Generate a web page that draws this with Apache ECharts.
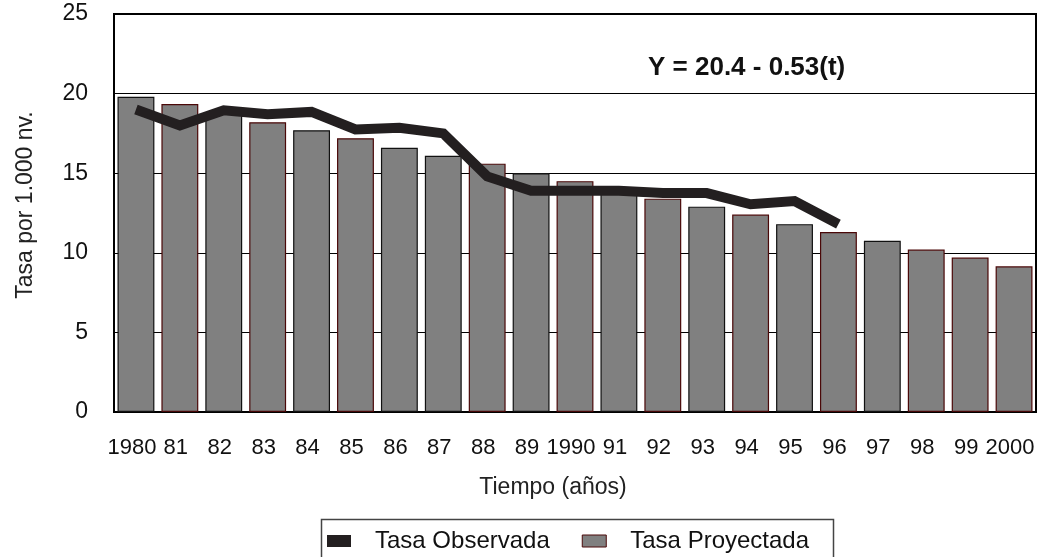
<!DOCTYPE html>
<html>
<head>
<meta charset="utf-8">
<script src="https://cdn.jsdelivr.net/npm/echarts@6/dist/echarts.min.js"></script>
<style>
html,body{margin:0;padding:0;background:#fff;}
#c{width:1041px;height:557px;}
</style>
</head>
<body>
<div id="c"></div>
<script>
const categories = ['1980','81','82','83','84','85','86','87','88','89','1990','91','92','93','94','95','96','97','98','99','2000'];
const projected = [19.8, 19.35, 18.8, 18.2, 17.7, 17.2, 16.6, 16.1, 15.6, 15.0, 14.5, 13.95, 13.4, 12.9, 12.4, 11.8, 11.3, 10.75, 10.2, 9.7, 9.15];
const observed = [19.0, 18.0, 18.95, 18.7, 18.85, 17.75, 17.85, 17.5, 14.8, 13.9, 13.9, 13.9, 13.75, 13.75, 13.05, 13.25, 11.8, null, null, null, null];
const yTicks = [0, 5, 10, 15, 20, 25];
const redEdged = [1, 3, 5, 8, 10, 12, 14, 16, 18, 19, 20];

const FONT = "'Liberation Sans', Arial, sans-serif";
const chart = echarts.init(document.getElementById('c'), null, {renderer: 'canvas'});

const barData = projected.map((v, i) => ({
  value: v,
  itemStyle: {borderColor: redEdged.includes(i) ? '#4a0808' : '#111'}
}));

chart.setOption({
  animation: false,
  backgroundColor: '#fff',
  grid: {left: 114, right: 5, top: 14, bottom: 145, show: true, borderColor: '#000', borderWidth: 2, backgroundColor: 'transparent'},
  xAxis: {
    type: 'category',
    data: categories,
    name: 'Tiempo (años)',
    nameLocation: 'middle',
    nameGap: 64,
    nameTextStyle: {fontFamily: FONT, fontSize: 23, color: '#222', padding: [0, 44, 0, 0]},
    axisLine: {lineStyle: {color: '#000', width: 2}},
    axisTick: {show: false},
    axisLabel: {fontFamily: FONT, fontSize: 22, color: '#111', margin: 25, interval: 0, padding: [0, 8, 0, 0]}
  },
  yAxis: {
    type: 'value',
    min: yTicks[0],
    max: yTicks[yTicks.length - 1],
    interval: 5,
    name: 'Tasa por 1.000 nv.',
    nameLocation: 'middle',
    nameGap: 77,
    nameTextStyle: {fontFamily: FONT, fontSize: 23, color: '#222', padding: [0, 0, 0, 16]},
    axisLine: {show: true, lineStyle: {color: '#000', width: 2}},
    axisTick: {show: false},
    axisLabel: {fontFamily: FONT, fontSize: 23, color: '#111', margin: 26},
    splitLine: {show: true, lineStyle: {color: '#000', width: 1}}
  },
  legend: {
    left: 322,
    top: 524,
    itemWidth: 24,
    itemHeight: 12,
    itemGap: 32,
    textStyle: {fontFamily: FONT, fontSize: 24, color: '#111', padding: [0, 0, 0, 19]},
    data: [
      {name: 'Tasa Observada', icon: 'rect', itemStyle: {color: '#231f20'}},
      {name: 'Tasa Proyectada', icon: 'rect', itemStyle: {color: '#808080', borderColor: '#4a0808', borderWidth: 1}}
    ]
  },
  graphic: [
    {type: 'rect', left: 319, top: 517, shape: {width: 512, height: 60}, style: {fill: 'none', stroke: '#444', lineWidth: 1.5}, z: -1},
    {type: 'text', left: 648, top: 55, style: {text: 'Y = 20.4 - 0.53(t)', font: "bold 26px 'Liberation Sans', Arial, sans-serif", fill: '#111'}}
  ],
  series: [
    {
      name: 'Tasa Proyectada',
      type: 'bar',
      data: barData,
      barCategoryGap: '16%',
      itemStyle: {color: '#808080', borderWidth: 1.2},
      z: 2
    },
    {
      name: 'Tasa Observada',
      type: 'line',
      data: observed,
      symbol: 'none',
      connectNulls: false,
      lineStyle: {color: '#231f20', width: 10, cap: 'butt', join: 'miter'},
      itemStyle: {color: '#231f20'},
      z: 3
    }
  ]
});
</script>
</body>
</html>
